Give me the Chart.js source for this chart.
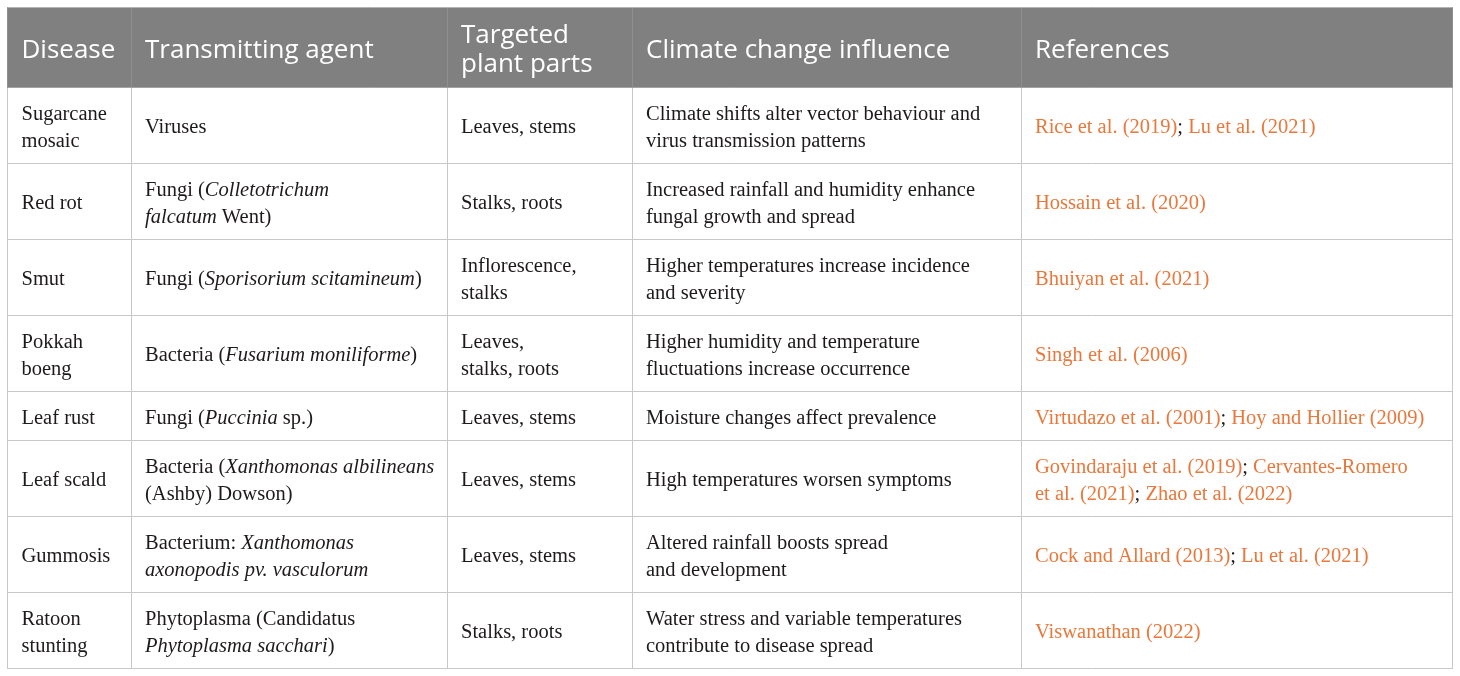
<!DOCTYPE html>
<html>
<head>
<meta charset="utf-8">
<script src="https://cdn.jsdelivr.net/npm/chart.js@4.4.0/dist/chart.umd.min.js"></script>
<style>
  html, body { margin: 0; padding: 0; background: #fff; }
  #wrap { width: 1460px; height: 676px; }
</style>
</head>
<body>
<div id="wrap"><canvas id="lentele"></canvas></div>
<script>
// duomenys: \n = nauja eilute, *tekstas* = kursyvas
const headers = ['Disease', 'Transmitting agent', 'Targeted\nplant parts', 'Climate change influence', 'References'];

const diseases = [
    'Sugarcane\nmosaic', 'Red rot', 'Smut', 'Pokkah\nboeng',
    'Leaf rust', 'Leaf scald', 'Gummosis', 'Ratoon\nstunting'
];

const agents = [
    'Viruses',
    'Fungi (*Colletotrichum*\n*falcatum* Went)',
    'Fungi (*Sporisorium scitamineum*)',
    'Bacteria (*Fusarium moniliforme*)',
    'Fungi (*Puccinia* sp.)',
    'Bacteria (*Xanthomonas albilineans*\n(Ashby) Dowson)',
    'Bacterium: *Xanthomonas*\n*axonopodis pv. vasculorum*',
    'Phytoplasma (Candidatus\n*Phytoplasma sacchari*)'
];

const plantParts = [
    'Leaves, stems', 'Stalks, roots', 'Inflorescence,\nstalks', 'Leaves,\nstalks, roots',
    'Leaves, stems', 'Leaves, stems', 'Leaves, stems', 'Stalks, roots'
];

const climateInfluence = [
    'Climate shifts alter vector behaviour and\nvirus transmission patterns',
    'Increased rainfall and humidity enhance\nfungal growth and spread',
    'Higher temperatures increase incidence\nand severity',
    'Higher humidity and temperature\nfluctuations increase occurrence',
    'Moisture changes affect prevalence',
    'High temperatures worsen symptoms',
    'Altered rainfall boosts spread\nand development',
    'Water stress and variable temperatures\ncontribute to disease spread'
];

const references = [
    ['Rice et al. (2019)', 'Lu et al. (2021)'],
    ['Hossain et al. (2020)'],
    ['Bhuiyan et al. (2021)'],
    ['Singh et al. (2006)'],
    ['Virtudazo et al. (2001)', 'Hoy and Hollier (2009)'],
    ['Govindaraju et al. (2019)', 'Cervantes-Romero\net al. (2021)', 'Zhao et al. (2022)'],
    ['Cock and Allard (2013)', 'Lu et al. (2021)'],
    ['Viswanathan (2022)']
];

// isdestymas
const colWidths = [123.5, 316, 185, 389, 431.5];
const headerHeight = 80;
const bodyLineH = 27;
const headerLineH = 29;
const cellPad = 14;

const headerFont = '26px "Open Sans"';
const bodyFont = '20.5px "Liberation Serif"';
const italicFont = 'italic 20.5px "Liberation Serif"';
const textColor = '#1e1a1b';
const refColor = '#e8783c';
const lineColor = '#c8c8c8';
const headerBg = '#808080';

// teksto segmentai
function parseItalic(str) {
    const segs = [];
    str.split('\n').forEach((line, li) => {
        if (li > 0) segs.push({ br: true });
        line.split('*').forEach((part, pi) => {
            if (part) segs.push({ text: part, italic: pi % 2 === 1, color: textColor });
        });
    });
    return segs;
}

function refSegments(list) {
    const segs = [];
    list.forEach((r, i) => {
        if (i > 0) segs.push({ text: '; ', italic: false, color: textColor });
        r.split('\n').forEach((part, pi) => {
            if (pi > 0) segs.push({ br: true });
            segs.push({ text: part, italic: false, color: refColor });
        });
    });
    return segs;
}

function toLines(segs) {
    const lines = [[]];
    segs.forEach(s => {
        if (s.br) lines.push([]);
        else lines[lines.length - 1].push(s);
    });
    return lines;
}

const bodyCells = diseases.map((d, i) => [
    toLines(parseItalic(d)),
    toLines(parseItalic(agents[i])),
    toLines(parseItalic(plantParts[i])),
    toLines(parseItalic(climateInfluence[i])),
    toLines(refSegments(references[i]))
]);

const rowHeights = bodyCells.map(row => 22 + bodyLineH * Math.max(...row.map(c => c.length)));

const colEdges = [0];
colWidths.forEach(w => colEdges.push(colEdges[colEdges.length - 1] + w));
const rowEdges = [0, headerHeight];
rowHeights.forEach(h => rowEdges.push(rowEdges[rowEdges.length - 1] + h));

const tablePlugin = {
    id: 'lentele',
    beforeDatasetsDraw(chart) {
        const ctx = chart.ctx;
        const xs = chart.scales.x;
        const ys = chart.scales.y;
        const x0 = xs.getPixelForValue(colEdges[0]);
        const x1 = xs.getPixelForValue(colEdges[colEdges.length - 1]);
        const y0 = ys.getPixelForValue(rowEdges[0]);
        const y1 = ys.getPixelForValue(rowEdges[1]);
        ctx.save();
        ctx.fillStyle = headerBg;
        ctx.fillRect(x0 - 0.5, y0 - 0.5, x1 - x0 + 1, y1 - y0 + 0.5);
        // header linijos
        ctx.strokeStyle = '#8f8f8f';
        ctx.lineWidth = 1;
        colEdges.forEach(v => {
            const px = Math.round(xs.getPixelForValue(v) - 0.5) + 0.5;
            ctx.beginPath();
            ctx.moveTo(px, y0);
            ctx.lineTo(px, y1);
            ctx.stroke();
        });
        ctx.strokeStyle = '#b4b4b4';
        ctx.beginPath();
        ctx.moveTo(x0, Math.round(y0 - 0.5) + 0.5);
        ctx.lineTo(x1, Math.round(y0 - 0.5) + 0.5);
        ctx.stroke();

        // header tekstas
        ctx.font = headerFont;
        ctx.fillStyle = '#ffffff';
        ctx.textBaseline = 'alphabetic';
        const hc = (y0 + y1) / 2;
        headers.forEach((h, c) => {
            const lines = h.split('\n');
            const left = xs.getPixelForValue(colEdges[c]) + cellPad;
            lines.forEach((ln, i) => {
                ctx.fillText(ln, left, hc + (i - (lines.length - 1) / 2) * headerLineH + 10);
            });
        });

        // kuno tekstas
        bodyCells.forEach((row, r) => {
            const top = ys.getPixelForValue(rowEdges[r + 1]);
            const bot = ys.getPixelForValue(rowEdges[r + 2]);
            const mid = (top + bot) / 2;
            row.forEach((lines, c) => {
                const left = xs.getPixelForValue(colEdges[c]) + cellPad;
                lines.forEach((segs, i) => {
                    const base = mid + (i - (lines.length - 1) / 2) * bodyLineH + 7.8;
                    let x = left;
                    segs.forEach(s => {
                        ctx.font = s.italic ? italicFont : bodyFont;
                        ctx.fillStyle = s.color;
                        ctx.fillText(s.text, x, base);
                        x += ctx.measureText(s.text).width;
                    });
                });
            });
        });
        ctx.restore();
    }
};

new Chart(document.getElementById('lentele'), {
    type: 'scatter',
    data: {
        datasets: [{
            data: diseases.map((d, i) => ({ x: colEdges[0], y: (rowEdges[i + 1] + rowEdges[i + 2]) / 2 })),
            pointRadius: 0
        }]
    },
    options: {
        responsive: true,
        maintainAspectRatio: false,
        animation: false,
        events: [],
        layout: { padding: { left: 7.5, right: 7.5, top: 7.5, bottom: 7.5 } },
        plugins: {
            legend: { display: false },
            tooltip: { enabled: false },
            title: { display: false }
        },
        scales: {
            x: {
                type: 'linear',
                min: colEdges[0],
                max: colEdges[colEdges.length - 1],
                afterBuildTicks: s => { s.ticks = colEdges.map(v => ({ value: v })); },
                ticks: { display: false },
                grid: { color: lineColor, lineWidth: 1, drawTicks: false },
                border: { display: false }
            },
            y: {
                type: 'linear',
                reverse: true,
                min: rowEdges[0],
                max: rowEdges[rowEdges.length - 1],
                afterBuildTicks: s => { s.ticks = rowEdges.map(v => ({ value: v })); },
                ticks: { display: false },
                grid: { color: lineColor, lineWidth: 1, drawTicks: false },
                border: { display: false }
            }
        }
    },
    plugins: [tablePlugin]
});
</script>
</body>
</html>
